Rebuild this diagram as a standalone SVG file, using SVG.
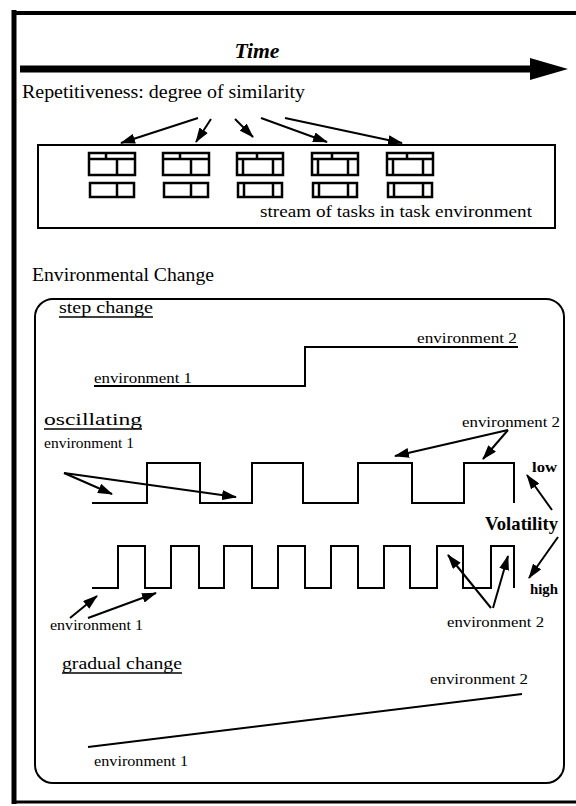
<svg xmlns="http://www.w3.org/2000/svg" width="576" height="806" viewBox="0 0 576 806">
<style>
text{font-family:"Liberation Serif","Times New Roman",serif;fill:#000}
.t{font-size:18px}
.s{font-size:15px}
.h{font-size:16px}
.b{font-weight:bold}
.ln{fill:none;stroke:#000;stroke-width:2}
.ic{fill:none;stroke:#000;stroke-width:2.5}
.ar{fill:none;stroke:#000;stroke-width:2;marker-end:url(#ah)}
</style>
<defs>
<marker id="ah" markerUnits="userSpaceOnUse" markerWidth="15" markerHeight="10" refX="14" refY="5" orient="auto"><path d="M0,0 L15,5 L0,10 z" fill="#000"/></marker>
<g id="icTop"><rect x="0" y="0" width="46" height="22" class="ic"/><line x1="0" y1="6" x2="46" y2="6" class="ic"/><line x1="17" y1="0" x2="17" y2="6" class="ic"/><line x1="28" y1="6" x2="28" y2="22" class="ic"/></g>
<g id="icBot"><rect x="1" y="0" width="44" height="14" class="ic"/><line x1="28" y1="0" x2="28" y2="14" class="ic"/></g>
<g id="icTop2"><rect x="0" y="0" width="46" height="22" class="ic"/><line x1="0" y1="6" x2="46" y2="6" class="ic"/><line x1="20" y1="0" x2="20" y2="6" class="ic"/><line x1="6" y1="6" x2="6" y2="22" class="ic"/><line x1="36" y1="6" x2="36" y2="22" class="ic"/></g>
<g id="icBot2"><rect x="1" y="0" width="44" height="14" class="ic"/><line x1="7" y1="0" x2="7" y2="14" class="ic"/><line x1="36" y1="0" x2="36" y2="14" class="ic"/></g>
</defs>
<rect width="576" height="806" fill="#fff"/>
<g id="frame">
<line x1="14" y1="10" x2="14" y2="804" stroke="#000" stroke-width="5"/>
<line x1="12" y1="13" x2="576" y2="13" stroke="#000" stroke-width="4"/>
<line x1="12" y1="802" x2="576" y2="802" stroke="#000" stroke-width="3"/>
</g>
<g id="time">
<text x="257" y="58" font-size="21" class="b" font-style="italic" text-anchor="middle" textLength="45" lengthAdjust="spacingAndGlyphs">Time</text>
<line x1="20" y1="69" x2="534" y2="69" stroke="#000" stroke-width="7"/>
<polygon points="530,58 568,69 530,80" fill="#000"/>
</g>
<g id="repetitiveness">
<text x="22" y="98" font-size="19" textLength="283" lengthAdjust="spacingAndGlyphs">Repetitiveness:  degree of similarity</text>
</g>
<g id="taskenv">
<rect x="38" y="145" width="517" height="83" class="ln"/>
<use href="#icTop" x="89" y="153"/><use href="#icBot" x="89" y="183"/>
<use href="#icTop" x="163" y="153"/><use href="#icBot" x="163" y="183"/>
<use href="#icTop2" x="237" y="153"/><use href="#icBot2" x="237" y="183"/>
<use href="#icTop2" x="312" y="153"/><use href="#icBot2" x="312" y="183"/>
<use href="#icTop2" x="387" y="153"/><use href="#icBot2" x="387" y="183"/>
<text x="260" y="217" font-size="17" textLength="272" lengthAdjust="spacingAndGlyphs">stream of tasks in task environment</text>
</g>
<g id="envchange">
<text x="32" y="281" class="t" textLength="182" lengthAdjust="spacingAndGlyphs">Environmental Change</text>
<rect x="35" y="299" width="529" height="484" rx="18" class="ln"/>
</g>
<g id="step">
<text x="59" y="313" class="h" textLength="94" lengthAdjust="spacingAndGlyphs">step change</text>
<line x1="59" y1="317" x2="153" y2="317" stroke="#000" stroke-width="1.5"/>
<path d="M94,386 H305 V347 H518" class="ln"/>
<text x="417" y="343" class="s" textLength="100" lengthAdjust="spacingAndGlyphs">environment 2</text>
<text x="94" y="383" class="s" textLength="98" lengthAdjust="spacingAndGlyphs">environment 1</text>
</g>
<g id="oscillating">
<text x="44" y="425" class="h" textLength="98" lengthAdjust="spacingAndGlyphs">oscillating</text>
<line x1="44" y1="429" x2="142" y2="429" stroke="#000" stroke-width="1.5"/>
<text x="44" y="448" class="s" textLength="90" lengthAdjust="spacingAndGlyphs">environment 1</text>
<text x="462" y="427" class="s" textLength="98" lengthAdjust="spacingAndGlyphs">environment 2</text>
<path d="M92,503 H147 V463 H200 V503 H252 V463 H303 V503 H358 V463 H412 V503 H464 V463 H514 V503" class="ln"/>
<text x="532" y="472" class="s b" font-size="13" textLength="25" lengthAdjust="spacingAndGlyphs">low</text>
</g>
<g id="volatility">
<text x="485" y="530" font-size="19" class="b" textLength="73" lengthAdjust="spacingAndGlyphs">Volatility</text>
</g>
<g id="highfreq">
<path d="M92,588 H118 V546 H145 V588 H171 V546 H199 V588 H224 V546 H252 V588 H278 V546 H305 V588 H331 V546 H358 V588 H384 V546 H410 V588 H437 V546 H463 V588 H491 V546 H514 V588" class="ln"/>
<text x="530" y="594" class="s b" font-size="13" textLength="28" lengthAdjust="spacingAndGlyphs">high</text>
<text x="50" y="630" class="s" textLength="93" lengthAdjust="spacingAndGlyphs">environment 1</text>
<text x="447" y="627" class="s" textLength="97" lengthAdjust="spacingAndGlyphs">environment 2</text>
</g>
<g id="gradual">
<text x="62" y="669" class="h" textLength="120" lengthAdjust="spacingAndGlyphs">gradual change</text>
<line x1="62" y1="673" x2="182" y2="673" stroke="#000" stroke-width="1.5"/>
<text x="430" y="684" class="s" textLength="98" lengthAdjust="spacingAndGlyphs">environment 2</text>
<line x1="88" y1="747" x2="522" y2="694" class="ln"/>
<text x="94" y="766" class="s" textLength="94" lengthAdjust="spacingAndGlyphs">environment 1</text>
</g>
<g id="connectors">
<line x1="198" y1="118" x2="121" y2="143" class="ar"/>
<line x1="211" y1="119" x2="196" y2="142" class="ar"/>
<line x1="235" y1="119" x2="253" y2="137" class="ar"/>
<line x1="261" y1="118" x2="327" y2="142" class="ar"/>
<line x1="285" y1="118" x2="402" y2="143" class="ar"/>
<line x1="64" y1="473" x2="112" y2="494" class="ar"/>
<line x1="64" y1="473" x2="236" y2="497" class="ar"/>
<line x1="508" y1="430" x2="395" y2="456" class="ar"/>
<line x1="508" y1="430" x2="483" y2="459" class="ar"/>
<line x1="552" y1="510" x2="527" y2="475" class="ar"/>
<line x1="558" y1="537" x2="529" y2="578" class="ar"/>
<line x1="70" y1="618" x2="97" y2="596" class="ar"/>
<line x1="88" y1="618" x2="156" y2="593" class="ar"/>
<line x1="491" y1="608" x2="448" y2="555" class="ar"/>
<line x1="493" y1="608" x2="508" y2="556" class="ar"/>
</g>
</svg>
